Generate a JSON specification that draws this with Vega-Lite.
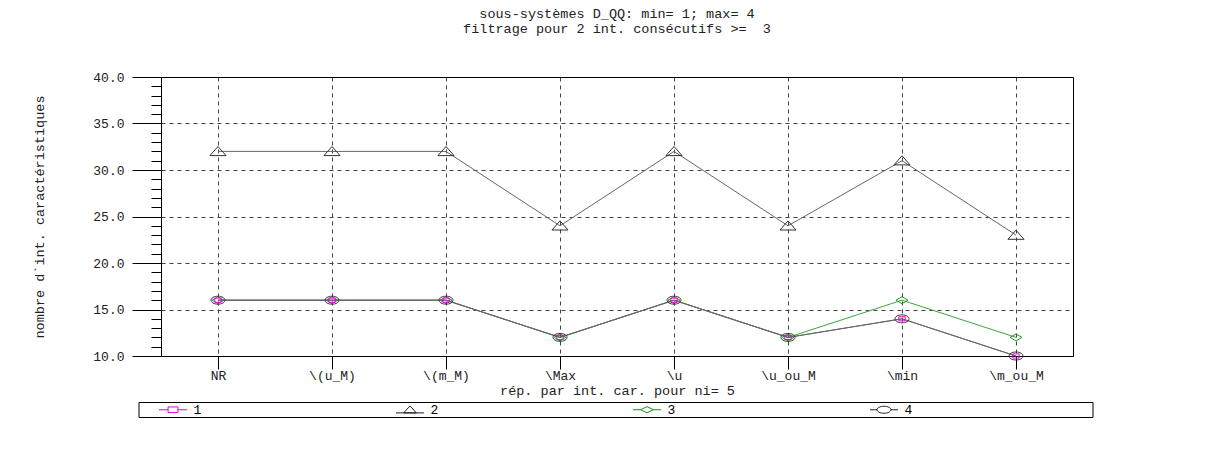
{
  "$schema": "https://vega.github.io/schema/vega-lite/v6.json",
  "autosize": {"type": "none"},
  "width": 912,
  "height": 279,
  "padding": {"left": 161, "top": 77, "right": 155, "bottom": 94},
  "background": "white",
  "config": {
    "view": {"stroke": "black", "strokeWidth": 1},
    "font": "Liberation Mono",
    "axis": {"labelFont": "Liberation Mono", "labelFontSize": 13, "labelColor": "#222", "titleFont": "Liberation Mono", "titleFontSize": 13.5, "titleFontWeight": "normal", "titleColor": "#222", "domainColor": "black", "tickColor": "black", "gridColor": "#444", "gridDash": [4, 4], "gridOpacity": 1}
  },
  "title": {
    "text": ["sous-systèmes D_QQ: min= 1; max= 4", "filtrage pour 2 int. consécutifs >= \u00a03"],
    "font": "Liberation Mono", "fontSize": 13.5, "fontWeight": "normal", "color": "#222",
    "anchor": "middle", "offset": 36, "lineHeight": 15
  },
  "data": {"values": [
    {"cat": "NR", "series": "3", "value": 16},
    {"cat": "\\(u_M)", "series": "3", "value": 16},
    {"cat": "\\(m_M)", "series": "3", "value": 16},
    {"cat": "\\Max", "series": "3", "value": 12},
    {"cat": "\\u", "series": "3", "value": 16},
    {"cat": "\\u_ou_M", "series": "3", "value": 12},
    {"cat": "\\min", "series": "3", "value": 16},
    {"cat": "\\m_ou_M", "series": "3", "value": 12},
    {"cat": "NR", "series": "1", "value": 16},
    {"cat": "\\(u_M)", "series": "1", "value": 16},
    {"cat": "\\(m_M)", "series": "1", "value": 16},
    {"cat": "\\Max", "series": "1", "value": 12},
    {"cat": "\\u", "series": "1", "value": 16},
    {"cat": "\\u_ou_M", "series": "1", "value": 12},
    {"cat": "\\min", "series": "1", "value": 14},
    {"cat": "\\m_ou_M", "series": "1", "value": 10},
    {"cat": "NR", "series": "2", "value": 32},
    {"cat": "\\(u_M)", "series": "2", "value": 32},
    {"cat": "\\(m_M)", "series": "2", "value": 32},
    {"cat": "\\Max", "series": "2", "value": 24},
    {"cat": "\\u", "series": "2", "value": 32},
    {"cat": "\\u_ou_M", "series": "2", "value": 24},
    {"cat": "\\min", "series": "2", "value": 31},
    {"cat": "\\m_ou_M", "series": "2", "value": 23},
    {"cat": "NR", "series": "4", "value": 16},
    {"cat": "\\(u_M)", "series": "4", "value": 16},
    {"cat": "\\(m_M)", "series": "4", "value": 16},
    {"cat": "\\Max", "series": "4", "value": 12},
    {"cat": "\\u", "series": "4", "value": 16},
    {"cat": "\\u_ou_M", "series": "4", "value": 12},
    {"cat": "\\min", "series": "4", "value": 14},
    {"cat": "\\m_ou_M", "series": "4", "value": 10}
  ]},
  "encoding": {
    "x": {
      "field": "cat", "type": "nominal",
      "scale": {"type": "point", "padding": 0.5, "domain": ["NR", "\\(u_M)", "\\(m_M)", "\\Max", "\\u", "\\u_ou_M", "\\min", "\\m_ou_M"]},
      "axis": {"title": "rép. par int. car. pour ni= 5", "labelAngle": 0, "tickSize": 13, "labelPadding": 0, "titlePadding": 1, "grid": true}
    },
    "y": {
      "field": "value", "type": "quantitative",
      "scale": {"domain": [10, 40], "nice": false, "zero": false},
      "axis": {
        "title": "nombre d`int. caractéristiques",
        "values": [10,11,12,13,14,15,16,17,18,19,20,21,22,23,24,25,26,27,28,29,30,31,32,33,34,35,36,37,38,39,40],
        "tickSize": {"condition": {"test": "datum.value % 5 === 0", "value": 29}, "value": 10},
        "gridOpacity": {"condition": {"test": "datum.value % 5 === 0 && datum.value > 10 && datum.value < 40", "value": 1}, "value": 0},
        "labelExpr": "datum.value % 5 === 0 ? format(datum.value, '.1f') : ''",
        "labelPadding": 8,
        "titlePadding": 46,
        "grid": true
      }
    }
  },
  "layer": [
    {
      "mark": {"type": "line", "strokeWidth": 1},
      "encoding": {
        "color": {"field": "series", "type": "nominal", "scale": {"domain": ["1", "2", "3", "4"], "range": ["#6a6a6a", "#666666", "#3aa63a", "#666666"]}, "legend": null}
      }
    },
    {
      "mark": {"type": "point", "filled": false, "strokeWidth": 1, "size": 196, "opacity": 1},
      "encoding": {
        "color": {"field": "series", "type": "nominal", "scale": {"domain": ["1", "2", "3", "4"], "range": ["#e000e0", "#333333", "#1f9a1f", "#333333"]}, "legend": null},
        "shape": {"field": "series", "type": "nominal", "scale": {"domain": ["1", "2", "3", "4"], "range": [
          "M-0.45,-0.3H0.45V0.3H-0.45Z",
          "M-1.15,0.6L0,-0.7L1.15,0.6Z",
          "M-0.85,0L0,-0.5L0.85,0L0,0.5Z",
          "M-1,0A1,0.57 0 1,0 1,0A1,0.57 0 1,0 -1,0Z"
        ]}, "legend": null}
      }
    },
    {
      "mark": {"type": "point", "filled": false, "strokeWidth": 1, "size": 196, "opacity": 0},
      "encoding": {
        "color": {"field": "series", "type": "nominal", "scale": {"domain": ["1", "2", "3", "4"], "range": ["#e000e0", "#222222", "#109010", "#222222"]},
          "legend": {
            "orient": "none", "legendX": -22.5, "legendY": 325, "direction": "horizontal", "columns": 4,
            "title": null, "strokeColor": "black", "padding": 0, "symbolSize": 196, "symbolOpacity": 1, "symbolStrokeWidth": 1, "symbolOffset": 27,
            "labelFont": "Liberation Mono", "labelFontSize": 13, "labelOffset": 13, "columnPadding": 174,
            "encode": {"labels": {"update": {"fill": {"signal": "datum.label === '1' ? '#e000e0' : datum.label === '3' ? '#109010' : '#222222'"}}}}
          }},
        "shape": {"field": "series", "type": "nominal", "scale": {"domain": ["1", "2", "3", "4"], "range": [
          "M-2,0H-0.7M0.7,0H2M-0.7,-0.4H0.7V0.4H-0.7Z",
          "M-2,0.45H2M-0.9,0.45L0,-0.55L0.9,0.45Z",
          "M-2,0H-0.9M0.9,0H2M-0.9,0L0,-0.45L0.9,0L0,0.45Z",
          "M-2,0H-1M1,0H2M-1,0A1,0.5 0 1,0 1,0A1,0.5 0 1,0 -1,0ZM29.5,0"
        ]}}
      }
    }
  ],
  "resolve": {"scale": {"color": "independent", "shape": "independent"}}
}
